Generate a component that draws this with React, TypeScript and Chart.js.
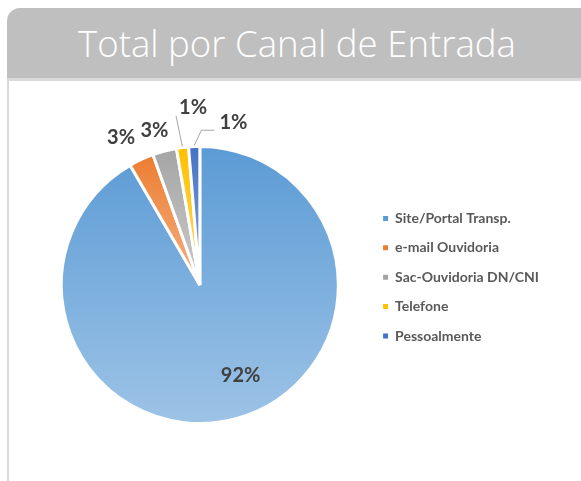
import React, { useEffect, useRef } from "react";
import { Chart, registerables } from "chart.js";

Chart.register(...registerables);

const TITLE = "Total por Canal de Entrada";
const categories = [
  "Site/Portal Transp.",
  "e-mail Ouvidoria",
  "Sac-Ouvidoria DN/CNI",
  "Telefone",
  "Pessoalmente",
];
const values = [91.6, 2.9, 2.8, 1.4, 1.3];
const topColors = ["#5B9BD5", "#ED7D31", "#A5A5A5", "#FFC000", "#4472C4"];
const bottomColors = ["#9DC3E6", "#F4B183", "#CBCBCB", "#FFD966", "#8FAADC"];

// label placement relative to each slice (angle shift in degrees, distance as fraction of radius)
const labelShift = [-9, -3, -1.6, 5, 14];
const labelDist = [0.72, 1.21, 1.165, 1.28, 1.2];
const leaderType = ["none", "none", "none", "straight", "elbow"];

const RADIUS = 138.5;
const LABEL_FONT = "bold 20px Lato, 'Open Sans', sans-serif";

function sliceGradient(c: any) {
  const i = c.dataIndex;
  if (i === undefined) return topColors[0];
  const chart = c.chart;
  const area = chart.chartArea;
  if (!area) return topColors[i];
  const total = values.reduce((a, b) => a + b, 0);
  const before = values.slice(0, i).reduce((a, b) => a + b, 0);
  const cy = (area.top + area.bottom) / 2;
  const start = -Math.PI / 2 + (before / total) * Math.PI * 2;
  const end = start + (values[i] / total) * Math.PI * 2;
  let minY = cy;
  let maxY = cy;
  for (let k = 0; k <= 90; k++) {
    const a = start + ((end - start) * k) / 90;
    const y = cy + Math.sin(a) * RADIUS;
    minY = Math.min(minY, y);
    maxY = Math.max(maxY, y);
  }
  const g = chart.ctx.createLinearGradient(0, minY, 0, maxY);
  g.addColorStop(0, topColors[i]);
  g.addColorStop(1, bottomColors[i]);
  return g;
}

const labelPlugin = {
  id: "sliceLabels",
  afterDatasetsDraw(chart: any) {
    const ctx = chart.ctx;
    const meta = chart.getDatasetMeta(0);
    const total = values.reduce((a, b) => a + b, 0);
    ctx.save();
    ctx.font = LABEL_FONT;
    ctx.fillStyle = "#404040";
    ctx.textAlign = "center";
    ctx.textBaseline = "middle";
    meta.data.forEach((arc: any, i: number) => {
      const p = arc.getProps(["x", "y", "startAngle", "endAngle", "outerRadius"], true);
      const midRaw = (p.startAngle + p.endAngle) / 2;
      const mid = midRaw + (labelShift[i] * Math.PI) / 180;
      const r = p.outerRadius * labelDist[i];
      const lx = p.x + Math.cos(mid) * r;
      const ly = p.y + Math.sin(mid) * r;
      const text = Math.round((values[i] / total) * 100) + "%";
      ctx.fillText(text, lx, ly);
      const w = ctx.measureText(text).width;
      const left = lx - w / 2;
      if (leaderType[i] !== "none") {
        const ex = p.x + Math.cos(midRaw) * (p.outerRadius + 1);
        const ey = p.y + Math.sin(midRaw) * (p.outerRadius + 1);
        ctx.strokeStyle = "#A6A6A6";
        ctx.lineWidth = 1;
        ctx.beginPath();
        ctx.moveTo(ex, ey);
        if (leaderType[i] === "straight") {
          ctx.lineTo(left - 3, ly + 8);
        } else {
          ctx.lineTo(left - 18, ly + 8);
          ctx.lineTo(left - 5, ly + 8);
        }
        ctx.stroke();
      }
    });
    ctx.restore();
  },
};

export default function App() {
  const ref = useRef<HTMLCanvasElement>(null);
  useEffect(() => {
    if (!ref.current) return;
    const chart = new Chart(ref.current, {
      type: "pie",
      data: {
        labels: categories,
        datasets: [
          {
            data: values,
            backgroundColor: sliceGradient as any,
            borderColor: "#FFFFFF",
            borderWidth: 3,
          },
        ],
      },
      options: {
        animation: false,
        responsive: true,
        maintainAspectRatio: false,
        events: [],
        radius: RADIUS,
        layout: { padding: { left: 23, right: 32, top: 115, bottom: 107 } },
        plugins: {
          tooltip: { enabled: false },
          title: { display: false },
          legend: {
            position: "right",
            align: "start",
            labels: {
              boxWidth: 5,
              boxHeight: 5,
              padding: 15.4,
              color: "#595959",
              font: { family: "Lato, 'Open Sans', sans-serif", size: 14, weight: "bold" },
              generateLabels: (ch: any) =>
                categories.map((name, i) => ({
                  text: name,
                  fillStyle: topColors[i],
                  strokeStyle: topColors[i],
                  lineWidth: 0,
                  hidden: false,
                  index: i,
                  fontColor: "#595959",
                })),
            },
          },
        },
      } as any,
      plugins: [labelPlugin],
    });
    return () => chart.destroy();
  }, []);

  return (
    <div
      style={{
        position: "fixed",
        left: 7,
        top: 8,
        width: 574,
        height: 473,
        background: "#FFFFFF",
      }}
    >
      <div
        style={{
          height: 73,
          background: "#BFBFBF",
          borderTopLeftRadius: 13,
          borderBottom: "3px solid #D9D9D9",
          color: "#FFFFFF",
          display: "flex",
          alignItems: "center",
          justifyContent: "center",
          fontFamily: "'Open Sans', Lato, sans-serif",
          fontWeight: 300,
          fontSize: 36.6,
          paddingLeft: 6,
          boxSizing: "border-box",
          whiteSpace: "nowrap",
        }}
      >
        {TITLE}
      </div>
      <div style={{ height: 400, borderLeft: "2px solid #D9D9D9", position: "relative" }}>
        <div style={{ position: "absolute", left: 0, top: 0, width: 572, height: 400 }}>
          <canvas ref={ref} />
        </div>
      </div>
    </div>
  );
}
